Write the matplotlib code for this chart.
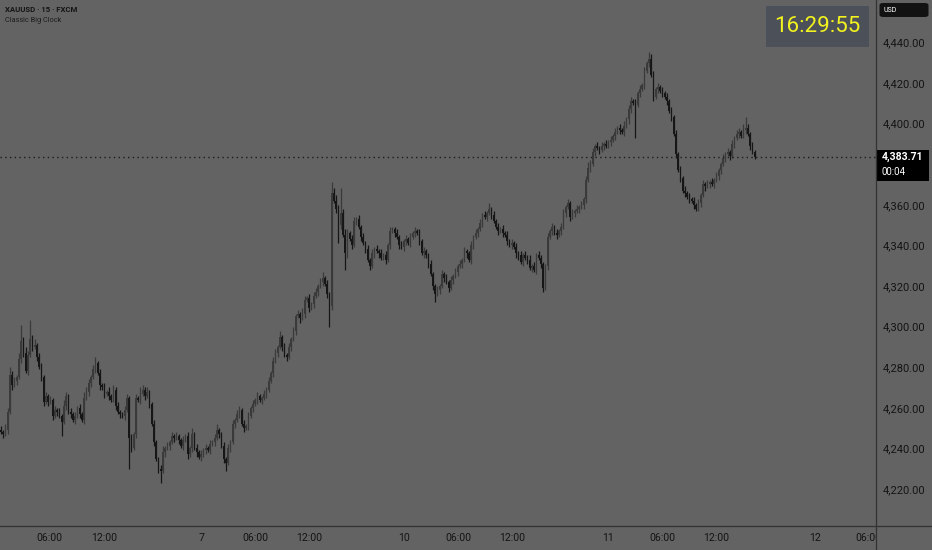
import matplotlib.pyplot as plt
import matplotlib.transforms as mtransforms
from matplotlib.patches import Rectangle, FancyBboxPatch
from matplotlib.lines import Line2D
import numpy as np

# 15-minute XAUUSD candles (closes, open = previous close)
first_open = 4249
closes = [
    4248, 4247, 4249, 4258, 4276, 4271, 4273, 4275, 4284, 4293,
    4287, 4278, 4286, 4294, 4290, 4291, 4285, 4280, 4275, 4263,
    4266, 4263, 4264, 4256, 4259, 4258, 4256, 4253, 4261, 4266,
    4258, 4257, 4254, 4256, 4260, 4257, 4254, 4265, 4268, 4272,
    4275, 4279, 4282, 4277, 4271, 4270, 4267, 4268, 4266, 4264,
    4269, 4261, 4258, 4257, 4256, 4259, 4265, 4245, 4240, 4247,
    4265, 4264, 4267, 4269, 4266, 4268, 4262, 4252, 4243, 4235,
    4230, 4229, 4238, 4240, 4241, 4243, 4246, 4245, 4246, 4244,
    4241, 4244, 4246, 4237, 4240, 4247, 4240, 4238, 4236, 4237,
    4239, 4240, 4239, 4242, 4243, 4245, 4249, 4247, 4241, 4235,
    4233, 4240, 4243, 4252, 4254, 4257, 4259, 4252, 4250, 4251,
    4256, 4260, 4262, 4264, 4266, 4264, 4265, 4267, 4269, 4273,
    4277, 4283, 4287, 4290, 4295, 4290, 4286, 4285, 4290, 4294,
    4298, 4305, 4306, 4304, 4306, 4313, 4314, 4309, 4311, 4315,
    4317, 4320, 4322, 4324, 4321, 4316, 4310, 4366, 4362, 4358,
    4350, 4356, 4345, 4336, 4346, 4343, 4340, 4352, 4353, 4349,
    4344, 4341, 4338, 4333, 4330, 4336, 4338, 4337, 4336, 4334,
    4335, 4333, 4340, 4347, 4348, 4346, 4344, 4340, 4339, 4342,
    4343, 4341, 4344, 4346, 4347, 4346, 4342, 4336, 4337, 4335,
    4331, 4326, 4320, 4316, 4318, 4320, 4326, 4324, 4322, 4319,
    4323, 4325, 4327, 4330, 4331, 4333, 4337, 4336, 4333, 4340,
    4344, 4346, 4348, 4351, 4355, 4354, 4356, 4358, 4355, 4352,
    4349, 4347, 4348, 4346, 4345, 4342, 4340, 4341, 4339, 4336,
    4335, 4332, 4335, 4334, 4333, 4329, 4330, 4328, 4335, 4334,
    4331, 4319, 4330, 4344, 4347, 4349, 4346, 4345, 4347, 4349,
    4356, 4359, 4361, 4354, 4356, 4357, 4358, 4359, 4360, 4363,
    4372, 4378, 4380, 4386, 4389, 4388, 4387, 4389, 4390, 4389,
    4391, 4392, 4394, 4396, 4398, 4397, 4396, 4399, 4402, 4407,
    4411, 4410, 4409, 4415, 4417, 4419, 4426, 4430, 4432, 4424,
    4413, 4417, 4418, 4416, 4415, 4413, 4411, 4406, 4403, 4395,
    4385, 4377, 4373, 4367, 4366, 4364, 4363, 4362, 4360, 4358,
    4361, 4365, 4370, 4369, 4370, 4371, 4370, 4372, 4374, 4377,
    4380, 4383, 4385, 4386, 4384, 4390, 4393, 4395, 4396, 4394,
    4397, 4398, 4395, 4389, 4386, 4383.71,
]
# wick length above / below the candle body, in dollars
upper_wick = [
    2, 1, 3, 2, 4, 2, 2, 1, 3, 8,
    2, 3, 2, 9, 2, 3, 1, 2, 2, 1,
    2, 1, 2, 1, 2, 1, 2, 1, 3, 2,
    1, 2, 1, 2, 1, 2, 1, 3, 2, 2,
    1, 2, 3, 1, 2, 1, 2, 1, 2, 1,
    2, 1, 2, 1, 1, 2, 2, 1, 2, 1,
    2, 1, 3, 2, 1, 2, 1, 1, 2, 1,
    1, 2, 3, 1, 2, 1, 2, 1, 2, 1,
    1, 2, 1, 2, 1, 3, 1, 2, 1, 2,
    1, 2, 1, 2, 1, 2, 3, 1, 1, 2,
    1, 2, 1, 2, 1, 2, 2, 1, 2, 1,
    2, 1, 2, 1, 2, 1, 1, 2, 1, 2,
    1, 2, 2, 1, 3, 1, 2, 1, 2, 1,
    2, 1, 2, 1, 3, 2, 1, 2, 1, 2,
    2, 1, 2, 3, 1, 2, 1, 5, 2, 3,
    2, 12, 2, 3, 2, 1, 2, 2, 1, 2,
    1, 2, 1, 2, 1, 2, 1, 2, 1, 2,
    1, 2, 1, 2, 1, 1, 2, 1, 2, 1,
    2, 1, 2, 1, 2, 1, 2, 1, 2, 1,
    1, 2, 1, 1, 2, 1, 2, 1, 2, 1,
    2, 1, 2, 1, 2, 1, 2, 1, 1, 2,
    1, 2, 1, 2, 1, 2, 1, 3, 1, 2,
    1, 2, 1, 2, 1, 2, 1, 2, 1, 2,
    1, 2, 1, 2, 1, 2, 1, 2, 1, 2,
    1, 1, 1, 2, 1, 2, 1, 2, 1, 2,
    2, 1, 2, 1, 2, 1, 2, 1, 2, 1,
    2, 3, 2, 2, 1, 2, 1, 2, 1, 2,
    1, 2, 1, 2, 1, 2, 1, 2, 1, 2,
    2, 1, 2, 1, 2, 1, 2, 1, 3, 2,
    2, 1, 2, 1, 2, 1, 2, 1, 2, 1,
    2, 1, 2, 1, 2, 1, 2, 1, 2, 1,
    2, 1, 2, 1, 2, 1, 2, 1, 2, 1,
    1, 2, 1, 2, 1, 2, 1, 2, 2, 1,
    3, 5, 2, 1, 2, 1,
]
lower_wick = [
    1, 2, 1, 2, 1, 2, 1, 2, 1, 2,
    2, 1, 2, 1, 2, 1, 2, 1, 2, 2,
    1, 2, 1, 2, 1, 2, 1, 7, 1, 2,
    1, 2, 1, 2, 1, 2, 1, 2, 1, 2,
    2, 1, 2, 1, 2, 1, 2, 1, 2, 1,
    1, 2, 1, 2, 1, 2, 1, 15, 2, 1,
    2, 1, 2, 1, 2, 1, 2, 1, 2, 1,
    2, 6, 1, 2, 1, 2, 1, 2, 1, 2,
    1, 2, 1, 2, 1, 2, 1, 2, 1, 2,
    1, 2, 1, 2, 1, 2, 1, 2, 1, 2,
    4, 1, 2, 1, 2, 1, 2, 1, 2, 1,
    2, 1, 2, 1, 2, 1, 2, 1, 2, 1,
    1, 2, 1, 2, 1, 2, 1, 2, 1, 2,
    1, 2, 1, 2, 1, 2, 1, 2, 1, 2,
    1, 2, 1, 2, 1, 2, 10, 2, 1, 2,
    9, 2, 1, 8, 2, 1, 2, 1, 2, 1,
    2, 1, 2, 1, 2, 1, 2, 1, 2, 1,
    1, 2, 1, 2, 1, 2, 1, 2, 1, 2,
    2, 1, 2, 1, 2, 1, 2, 1, 2, 1,
    2, 1, 2, 4, 1, 2, 1, 2, 1, 2,
    1, 2, 1, 2, 1, 2, 1, 2, 1, 2,
    2, 1, 2, 1, 2, 1, 2, 1, 2, 1,
    1, 2, 1, 2, 1, 2, 1, 2, 1, 2,
    2, 1, 2, 1, 2, 1, 2, 1, 2, 1,
    2, 2, 1, 2, 1, 2, 1, 2, 1, 2,
    1, 2, 1, 2, 1, 2, 1, 2, 1, 2,
    2, 1, 2, 1, 2, 1, 2, 1, 2, 1,
    1, 2, 1, 2, 1, 2, 1, 2, 1, 2,
    2, 1, 16, 1, 2, 1, 2, 1, 2, 1,
    2, 1, 2, 1, 2, 1, 2, 1, 2, 1,
    2, 1, 2, 1, 2, 1, 2, 1, 2, 1,
    1, 2, 1, 2, 1, 2, 1, 2, 1, 2,
    2, 1, 2, 1, 2, 1, 2, 1, 2, 1,
    1, 2, 1, 2, 1, 1,
]

# time axis labels (bar index where each label sits)
x_tick_bars = [21.3, 45.8, 88.9, 112.9, 136.9, 179.1, 203.1, 227.1,
               269.8, 293.8, 317.8, 361.8, 385.3]
x_tick_labels = ['06:00', '12:00', '7', '06:00', '12:00', '10', '06:00',
                 '12:00', '11', '06:00', '12:00', '12', '06:00']
# 4,380 sits under the last-price badge, so it is not shown
price_ticks = [4220, 4240, 4260, 4280, 4300, 4320, 4340, 4360,
               4400, 4420, 4440]

title = 'XAUUSD · 15 · FXCM'
indicator = 'Classic Big Clock'
clock = '16:29:55'
countdown = '00:04'
currency = 'USD'

W, H = 932, 550
bg = '#636363'
txt = '#141414'
plt.rcParams['font.family'] = ['Roboto', 'DejaVu Sans']

fig = plt.figure(figsize=(W / 100, H / 100), dpi=100, facecolor=bg)
ax = fig.add_axes([0, 24 / H, 876 / W, 526 / H])
ax.set_facecolor(bg)
ax.set_xlim(-0.44, 388.9)
ax.set_ylim(4201.78, 4460.83)

c = np.array(closes, dtype=float)
o = np.array([first_open] + closes[:-1], dtype=float)
hi = np.maximum(o, c) + np.array(upper_wick)
lo = np.minimum(o, c) - np.array(lower_wick)
idx = np.arange(len(c))
cols = np.where(c >= o, '#3a3a3a', '#161616')

ax.vlines(idx, lo, hi, colors=cols, lw=0.9)
ax.bar(idx, np.maximum(np.abs(c - o), 0.6), bottom=np.minimum(o, c),
       width=0.85, color=cols, lw=0)

# last price dotted line
last = closes[-1]
ax.axhline(last, color='#1c1c1c', lw=1, ls=(0, (1, 2.4)))

for s in ax.spines.values():
    s.set_visible(False)

ax.yaxis.tick_right()
ax.set_yticks(price_ticks, [f'{v:,.2f}' for v in price_ticks])
ax.tick_params(axis='y', length=0, pad=5, labelsize=8, labelcolor=txt)
ax.set_xticks(x_tick_bars, x_tick_labels)
ax.tick_params(axis='x', length=0, pad=5, labelsize=7.6, labelcolor=txt)
clipbox = mtransforms.TransformedBbox(
    mtransforms.Bbox([[0, 0], [876 / W, 1]]), fig.transFigure)
for lbl in ax.get_xticklabels():
    lbl.set_clip_box(clipbox)
    lbl.set_clip_on(True)

# pane separators
fig.add_artist(Line2D([0, 1], [24 / H, 24 / H], transform=fig.transFigure,
                      color='#333333', lw=0.9))
fig.add_artist(Line2D([876 / W, 876 / W], [0, 1], transform=fig.transFigure,
                      color='#333333', lw=0.9))

# last price label
blend = mtransforms.blended_transform_factory(fig.transFigure, ax.transData)
ppx = 526 / (4460.83 - 4201.78)
fig.add_artist(Rectangle((877 / W, last - 24 / ppx), 52 / W, 31 / ppx,
                         transform=blend, fc='#000000', ec='none'))
fig.text(882 / W, last - 0.5 / ppx, f'{last:,.2f}', transform=blend,
         color='white', fontsize=7.6, fontweight='bold', va='center',
         ha='left')
fig.text(882 / W, last - 15 / ppx, countdown, transform=blend,
         color='white', fontsize=7, va='center', ha='left')

# currency badge
fig.add_artist(FancyBboxPatch((879.5 / W, 1 - 17 / H), 49 / W, 14 / H,
                              boxstyle='round,pad=0,rounding_size=0.004',
                              transform=fig.transFigure, fc='#121212',
                              ec='none'))
fig.text(883 / W, 1 - 10 / H, currency, color='white', fontsize=5,
         va='center', ha='left')

# big clock
fig.add_artist(Rectangle((766 / W, 1 - 47 / H), 103 / W, 41 / H,
                         transform=fig.transFigure, fc='#4c5058', ec='none'))
fig.text(817.5 / W, 1 - 26.5 / H, clock, color='#f2f21e', fontsize=16,
         va='center', ha='center')

# legend text
fig.text(5 / W, 1 - 10 / H, title, color=txt, fontsize=5.6,
         fontweight='bold', va='center', ha='left')
fig.text(5 / W, 1 - 20 / H, indicator, color='#1c1c1c', fontsize=5.3,
         va='center', ha='left')

fig.savefig('out.png', dpi=100, facecolor=bg)
